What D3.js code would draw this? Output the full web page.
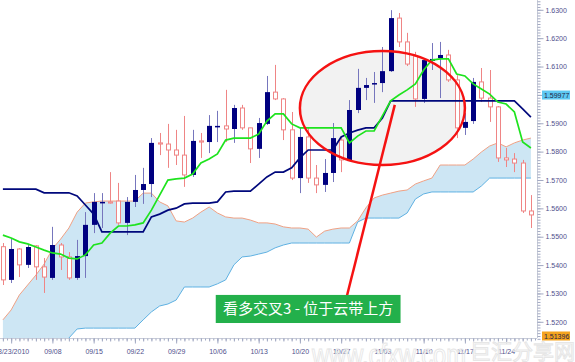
<!DOCTYPE html>
<html>
<head>
<meta charset="utf-8">
<script src="https://cdn.jsdelivr.net/npm/d3@7"></script>
<style>
body { margin: 0; background: #fff; }
svg { display: block; font-family: "Liberation Sans", Arial, sans-serif; }
</style>
</head>
<body>
<svg id="chart" width="575" height="362"></svg>
<script>
// daily candles, one per trading day (first = 08/31/2010)
var opens = [1.5463,1.5346,1.5455,1.5399,1.5466,1.5392,1.5353,1.5469,1.5427,1.5353,
  1.5430,1.5540,1.5617,1.5621,1.5624,1.5547,1.5621,1.5663,1.5684,1.5829,
  1.5825,1.5804,1.5786,1.5716,1.5836,1.5832,1.5885,1.5889,1.5878,1.5952,
  1.5882,1.5808,1.5896,1.6008,1.5984,1.5875,1.5705,1.5850,1.5705,1.5681,
  1.5723,1.5839,1.5765,1.5945,1.6023,1.6037,1.6040,1.6082,1.6269,1.6185,
  1.6135,1.5984,1.6118,1.6128,1.6139,1.6051,1.5882,1.5906,1.6044,1.5987,
  1.5956,1.5776,1.5772,1.5758,1.5589];
var highs = [1.5476,1.5490,1.5458,1.5469,1.5469,1.5423,1.5533,1.5476,1.5444,1.5487,
  1.5585,1.5652,1.5652,1.5726,1.5688,1.5638,1.5716,1.5741,1.5846,1.5864,
  1.5896,1.5875,1.5924,1.5875,1.5864,1.5927,1.5942,1.6016,1.5963,1.5963,
  1.5882,1.5917,1.6065,1.6104,1.5987,1.5938,1.5882,1.5882,1.5751,1.5772,
  1.5899,1.5850,1.5980,1.6090,1.6058,1.6079,1.6167,1.6297,1.6287,1.6217,
  1.6150,1.6128,1.6181,1.6185,1.6157,1.6068,1.5934,1.6058,1.6093,1.6086,
  1.5959,1.5811,1.5793,1.5769,1.5645];
var lows = [1.5328,1.5335,1.5356,1.5388,1.5346,1.5300,1.5346,1.5381,1.5346,1.5346,
  1.5353,1.5511,1.5529,1.5615,1.5540,1.5504,1.5603,1.5614,1.5638,1.5786,
  1.5741,1.5751,1.5674,1.5709,1.5776,1.5793,1.5832,1.5832,1.5829,1.5875,
  1.5758,1.5776,1.5892,1.5980,1.5839,1.5698,1.5652,1.5688,1.5652,1.5656,
  1.5691,1.5726,1.5765,1.5934,1.5980,1.5970,1.6008,1.6079,1.6167,1.6100,
  1.5956,1.5970,1.6086,1.5987,1.6044,1.5846,1.5857,1.5896,1.5973,1.5903,
  1.5762,1.5744,1.5726,1.5582,1.5529];
var closes = [1.5346,1.5455,1.5399,1.5462,1.5392,1.5356,1.5469,1.5427,1.5353,1.5430,
  1.5540,1.5621,1.5621,1.5617,1.5547,1.5621,1.5663,1.5684,1.5829,1.5825,
  1.5804,1.5786,1.5716,1.5836,1.5832,1.5889,1.5889,1.5878,1.5952,1.5882,
  1.5808,1.5899,1.6008,1.5984,1.5875,1.5705,1.5850,1.5705,1.5681,1.5723,
  1.5846,1.5769,1.5945,1.6023,1.6033,1.6040,1.6082,1.6269,1.6185,1.6107,
  1.5984,1.6121,1.6125,1.6139,1.6051,1.5882,1.5903,1.6044,1.5987,1.5956,
  1.5776,1.5769,1.5758,1.5589,1.5575];

// ichimoku lines
var tenkan = [1.5504,1.5494,1.5480,1.5473,1.5462,1.5451,1.5441,1.5437,1.5423,1.5420,
  1.5434,1.5469,1.5476,1.5511,1.5536,1.5536,1.5540,1.5547,1.5592,1.5645,
  1.5698,1.5702,1.5705,1.5719,1.5758,1.5772,1.5790,1.5839,1.5846,1.5846,
  1.5846,1.5860,1.5906,1.5931,1.5931,1.5896,1.5882,1.5882,1.5882,1.5882,
  1.5882,1.5882,1.5829,1.5853,1.5871,1.5871,1.5924,1.5977,1.5998,1.6016,
  1.6037,1.6086,1.6121,1.6125,1.6125,1.6072,1.6065,1.6037,1.6019,1.6001,
  1.5973,1.5966,1.5938,1.5832,1.5811];
var kijun = [1.5666,1.5666,1.5666,1.5666,1.5666,1.5653,1.5653,1.5653,1.5653,1.5642,
  1.5610,1.5578,1.5515,1.5515,1.5515,1.5515,1.5515,1.5515,1.5568,1.5578,
  1.5592,1.5599,1.5614,1.5617,1.5617,1.5617,1.5621,1.5656,1.5659,1.5659,
  1.5659,1.5684,1.5709,1.5726,1.5726,1.5741,1.5776,1.5804,1.5804,1.5804,
  1.5804,1.5850,1.5864,1.5874,1.5882,1.5882,1.5917,1.5977,1.5977,1.5977,
  1.5977,1.5977,1.5977,1.5977,1.5977,1.5977,1.5977,1.5977,1.5977,1.5977,
  1.5977,1.5977,1.5977,1.5949,1.5920];
var spanA = [1.5205,1.5240,1.5293,1.5328,1.5363,1.5402,1.5455,1.5490,1.5529,1.5585,
  1.5617,1.5621,1.5624,1.5624,1.5624,1.5624,1.5624,1.5652,1.5652,1.5621,
  1.5607,1.5554,1.5550,1.5564,1.5585,1.5603,1.5582,1.5568,1.5564,1.5564,
  1.5557,1.5547,1.5547,1.5543,1.5533,1.5529,1.5529,1.5525,1.5497,1.5518,
  1.5525,1.5529,1.5529,1.5554,1.5600,1.5635,1.5645,1.5652,1.5659,1.5663,
  1.5684,1.5695,1.5705,1.5751,1.5751,1.5751,1.5751,1.5772,1.5797,1.5818,
  1.5829,1.5815,1.5829,1.5839,1.5846];
var spanB = [1.5110,1.5110,1.5110,1.5110,1.5110,1.5110,1.5110,1.5110,1.5141,1.5173,
  1.5176,1.5176,1.5176,1.5176,1.5176,1.5176,1.5176,1.5205,1.5233,1.5254,
  1.5261,1.5275,1.5321,1.5321,1.5321,1.5321,1.5332,1.5346,1.5399,1.5427,
  1.5430,1.5437,1.5444,1.5459,1.5469,1.5476,1.5476,1.5476,1.5476,1.5476,
  1.5476,1.5476,1.5476,1.5550,1.5564,1.5564,1.5564,1.5564,1.5564,1.5582,
  1.5631,1.5649,1.5656,1.5656,1.5656,1.5656,1.5656,1.5656,1.5677,1.5705,
  1.5705,1.5705,1.5705,1.5705,1.5705];

var tickIdx = [1, 6, 11, 16, 21, 26, 31, 36, 41, 46, 51, 56, 61];
var tickLabels = ["08/23/2010","09/08","09/15","09/22","09/29","10/06","10/13",
  "10/20","10/27","11/03","11/10","11/17","11/24"];
var priceTicks = [1.52, 1.53, 1.54, 1.55, 1.56, 1.57, 1.58, 1.59, 1.60, 1.61, 1.62, 1.63];
var markValues = [1.59977, 1.51396];
var markLabels = ["1.59977", "1.51396"];
var markColors = ["#5ec8f2", "#f5a41e"];

// annotation (data units)
var ringCenter = [46, 1.5952], ringRadius = [10, 0.0201];
var pointerFrom = [41.7, 1.5289], pointerTo = [47.5, 1.5963];
var boxFrom = [25.8, 1.5293], boxTo = [48.2, 1.5194];
var boxText = "看多交叉3 - 位于云带上方";

var plotR = 537, plotB = 338;
var svg = d3.select("#chart");
var x = d3.scaleLinear().domain([0, 64]).range([2.9, 530.9]);
var y = d3.scaleLinear().domain([1.51341, 1.63328]).range([340, 0]);
var idx = d3.range(closes.length);

svg.append("defs").append("clipPath").attr("id", "plotclip")
  .append("rect").attr("width", plotR).attr("height", plotB);
var plot = svg.append("g").attr("clip-path", "url(#plotclip)");

// cloud
plot.append("path").datum(idx)
  .attr("d", d3.area().x(x).y0(function(i){ return y(spanB[i]); }).y1(function(i){ return y(spanA[i]); }))
  .attr("fill", "#cde6f4");
plot.append("path").datum(idx)
  .attr("d", d3.line().x(x).y(function(i){ return y(spanA[i]); }))
  .attr("fill", "none").attr("stroke", "#f0a184").attr("stroke-width", 1);
plot.append("path").datum(idx)
  .attr("d", d3.line().x(x).y(function(i){ return y(spanB[i]); }))
  .attr("fill", "none").attr("stroke", "#5fb1e2").attr("stroke-width", 1);

// ellipse fill under the candles
var ecx = x(ringCenter[0]), ecy = y(ringCenter[1]);
var erx = x(ringCenter[0] + ringRadius[0]) - ecx, ery = y(ringCenter[1] - ringRadius[1]) - ecy;
plot.append("ellipse").attr("cx", ecx).attr("cy", ecy).attr("rx", erx).attr("ry", ery)
  .attr("fill", "#f2f2f2");

// candles
function cx(i) { return Math.round(x(i)) + 0.5; }
var cand = plot.append("g").selectAll("g").data(idx).enter().append("g");
cand.append("line")
  .attr("x1", cx).attr("x2", cx)
  .attr("y1", function(i){ return y(highs[i]); })
  .attr("y2", function(i){ return y(lows[i]); })
  .attr("stroke", function(i){ return closes[i] >= opens[i] ? "#7676bd" : "#ef8585"; })
  .attr("stroke-width", 1);
cand.filter(function(i){ return closes[i] >= opens[i]; }).append("rect")
  .attr("x", function(i){ return cx(i) - 2.5; }).attr("width", 5)
  .attr("y", function(i){ return y(closes[i]); })
  .attr("height", function(i){ return Math.max(1.5, y(opens[i]) - y(closes[i])); })
  .attr("fill", "#000080");
cand.filter(function(i){ return closes[i] < opens[i]; }).append("rect")
  .attr("x", function(i){ return cx(i) - 2; }).attr("width", 4)
  .attr("y", function(i){ return y(opens[i]); })
  .attr("height", function(i){ return Math.max(1, y(closes[i]) - y(opens[i])); })
  .attr("fill", "#fff").attr("stroke", "#ef8585").attr("stroke-width", 1);

// kijun + tenkan
plot.append("path").datum(idx)
  .attr("d", d3.line().x(x).y(function(i){ return y(kijun[i]); }))
  .attr("fill", "none").attr("stroke", "#00087c").attr("stroke-width", 1.7);
plot.append("path").datum(idx)
  .attr("d", d3.line().x(x).y(function(i){ return y(tenkan[i]); }))
  .attr("fill", "none").attr("stroke", "#1ee31e").attr("stroke-width", 1.7);

// annotation
plot.append("ellipse").attr("cx", ecx).attr("cy", ecy).attr("rx", erx).attr("ry", ery)
  .attr("fill", "none").attr("stroke", "#f51212").attr("stroke-width", 2.5);
plot.append("line")
  .attr("x1", x(pointerFrom[0])).attr("y1", y(pointerFrom[1]))
  .attr("x2", x(pointerTo[0])).attr("y2", y(pointerTo[1]))
  .attr("stroke", "#f51212").attr("stroke-width", 2.5);
plot.append("rect")
  .attr("x", x(boxFrom[0])).attr("y", y(boxFrom[1]))
  .attr("width", x(boxTo[0]) - x(boxFrom[0])).attr("height", y(boxTo[1]) - y(boxFrom[1]))
  .attr("fill", "#23b04b");
plot.append("text")
  .attr("x", (x(boxFrom[0]) + x(boxTo[0])) / 2)
  .attr("y", (y(boxFrom[1]) + y(boxTo[1])) / 2 + 5.5)
  .attr("text-anchor", "middle").attr("fill", "#fff")
  .style("font-family", "'Noto Sans CJK SC', sans-serif").style("font-size", "15px")
  .text(boxText);

// axes
var tickCol = "#a2a9c2", textCol = "#50508c";
function styleAxis(g) {
  g.attr("font-family", null).attr("font-size", null);
  g.selectAll("line").attr("stroke", tickCol);
  g.selectAll("path").remove();
  g.selectAll("text").attr("fill", textCol).style("font-size", "7px");
}
svg.append("line").attr("x1", plotR + 0.5).attr("x2", plotR + 0.5).attr("y1", 0).attr("y2", plotB)
  .attr("stroke", "#c9cdd9");
svg.append("line").attr("x1", 0).attr("x2", plotR).attr("y1", plotB + 0.5).attr("y2", plotB + 0.5)
  .attr("stroke", "#c9cdd9");

var minorP = d3.range(1514, 1634).map(function(v){ return v / 1000; });
svg.append("g").attr("transform", "translate(" + (plotR + 0.5) + ",0.5)")
  .call(d3.axisRight(y).tickValues(minorP).tickFormat("").tickSize(3).tickSizeOuter(0))
  .call(styleAxis);
svg.append("g").attr("transform", "translate(" + (plotR + 0.5) + ",0.5)")
  .call(d3.axisRight(y).tickValues(priceTicks).tickFormat(d3.format(".4f")).tickSize(6).tickPadding(2).tickSizeOuter(0))
  .call(styleAxis);

var halfIdx = d3.range(-0.5, 65, 0.5);
svg.append("g").attr("transform", "translate(0," + (plotB + 0.5) + ")")
  .call(d3.axisBottom(x).tickValues(halfIdx).tickFormat("").tickSize(2).tickSizeOuter(0))
  .call(styleAxis);
svg.append("g").attr("transform", "translate(0," + (plotB + 0.5) + ")")
  .call(d3.axisBottom(x).tickValues(idx).tickFormat("").tickSize(3).tickSizeOuter(0))
  .call(styleAxis);
svg.append("g").attr("transform", "translate(0," + (plotB + 0.5) + ")")
  .call(d3.axisBottom(x).tickValues(tickIdx).tickFormat(function(d, i){ return tickLabels[i]; })
    .tickSize(5).tickPadding(6).tickSizeOuter(0))
  .call(styleAxis);

// highlighted values on the price axis
markValues.forEach(function(v, k) {
  var py = Math.min(y(v), 336);
  svg.append("rect").attr("x", 542).attr("y", py - 4.5).attr("width", 28).attr("height", 9)
    .attr("fill", markColors[k]);
  svg.append("text").attr("x", 544).attr("y", py + 2.5).attr("fill", "#1e1e46")
    .style("font-size", "7px").text(markLabels[k]);
});

// faint site watermark
svg.append("text").attr("x", 312).attr("y", 365)
  .attr("textLength", 154).attr("lengthAdjust", "spacingAndGlyphs")
  .attr("fill", "none").attr("stroke", "#e6e6e6").attr("stroke-width", 1)
  .style("font-size", "30px").text("www.cfxw.com");
svg.append("text").attr("x", 470).attr("y", 359)
  .attr("fill", "none").attr("stroke", "#e6e6e6").attr("stroke-width", 1)
  .style("font-family", "'Noto Sans CJK SC', sans-serif").style("font-size", "21px").text("巨汇分享网");
</script>
</body>
</html>
